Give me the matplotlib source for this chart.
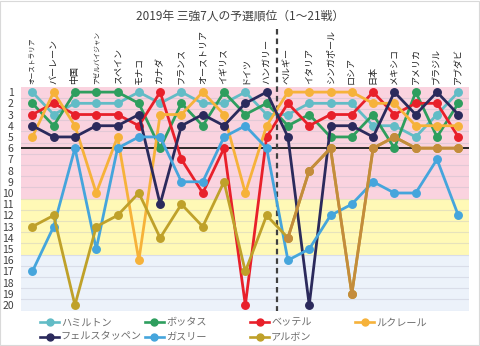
import matplotlib
matplotlib.use("Agg")
import matplotlib.pyplot as plt
from matplotlib.lines import Line2D
from matplotlib.patches import Rectangle

plt.rcParams['font.family'] = ['Noto Sans CJK JP', 'DejaVu Sans']

# 2019年 各GPの予選順位(1〜21戦)
races = ['オーストラリア', 'バーレーン', '中国', 'アゼルバイジャン', 'スペイン', 'モナコ', 'カナダ',
         'フランス', 'オーストリア', 'イギリス', 'ドイツ', 'ハンガリー', 'ベルギー', 'イタリア',
         'シンガポール', 'ロシア', '日本', 'メキシコ', 'アメリカ', 'ブラジル', 'アブダビ']

hamilton = [1, 3, 2, 2, 2, 1, 2, 1, 2, 2, 1, 3, 3, 2, 2, 2, 4, 4, 5, 3, 1]
bottas = [2, 4, 1, 1, 1, 2, 6, 2, 4, 1, 3, 2, 4, 3, 5, 5, 3, 6, 1, 5, 2]
vettel = [3, 2, 3, 3, 3, 4, 1, 7, 10, 6, 20, 5, 2, 4, 3, 3, 1, 3, 2, 2, 5]
leclerc = [5, 1, 4, 10, 5, 16, 3, 3, 1, 3, 10, 4, 1, 1, 1, 1, 2, 2, 4, 4, 4]
verstappen = [4, 5, 5, 4, 4, 3, 11, 4, 3, 4, 2, 1, 5, 20, 4, 4, 5, 1, 3, 1, 3]
gasly = [17, 13, 6, 15, 6, 5, 5, 9, 9, 5, 4, 6, 16, 15, 12, 11, 9, 10, 10, 7, 12]
albon = [13, 12, 20, 13, 12, 10, 14, 11, 13, 9, 17, 12, 14, 8, 6, 19, 6, 5, 6, 6, 6]

drivers = ['ハミルトン', 'ボッタス', 'ベッテル', 'ルクレール', 'フェルスタッペン', 'ガスリー', 'アルボン']
series = [hamilton, bottas, vettel, leclerc, verstappen, gasly, albon]
colors = ['#62BCC6', '#2E9E5E', '#E8202A', '#F6B23A', '#2B2A5C', '#45A5DC', '#BFA12A']

BREAK_AFTER = 12  # ハンガリーの後(夏休み)

fig = plt.figure(figsize=(4.8, 3.46), dpi=100)
ax = fig.add_axes([0.043, 0.102, 0.934, 0.648])

x = list(range(1, len(races) + 1))

# 背景の帯
ax.axhspan(0.5, 10.5, color='#FAD3DF', zorder=0, lw=0)
ax.axhspan(10.5, 15.5, color='#FFF9B6', zorder=0, lw=0)
ax.axhspan(15.5, 20.5, color='#ECF2FA', zorder=0, lw=0)
for y in range(1, 21):
    ax.axhline(y + 0.5, color='#B8B8C8', alpha=0.35, lw=0.8, zorder=0.5)

ax.axhline(6, color='#1A1A1A', lw=1.3, zorder=1)
ax.plot([BREAK_AFTER + 0.5] * 2, [-4.6, 20.5], color='#404040', lw=1.6,
        ls=(0, (2.5, 1.8)), clip_on=False, zorder=1)

for name, vals, c in zip(drivers, series, colors):
    ax.plot(x, vals, color=c, lw=2.0, marker='o', ms=5.4, zorder=2)
# アルボンは後半(レッドブル昇格後)を茶色で
ax.plot(x[BREAK_AFTER:], albon[BREAK_AFTER:], color='#C48C3C', lw=2.0,
        marker='o', ms=5.4, zorder=2)

ax.set_xlim(0.45, 21.5)
ax.set_ylim(20.5, 0.5)
ax.set_xticks([])
ax.set_yticks(range(1, 21))
ax.tick_params(axis='y', length=0, pad=5, labelsize=7.5, labelcolor='#404040')
for s in ax.spines.values():
    s.set_visible(False)

# 長い国名は詰めて表示
for xi, r in zip(x, races):
    ax.text(xi, 0.3, r, rotation=90, ha='center', va='bottom',
            fontsize=6.5 if len(r) <= 6 else 4.8, color='#202020')

fig.text(0.5, 0.954, '2019年 三強7人の予選順位（1～21戦）', ha='center', va='center',
         fontsize=8.5, color='#404040')

# 凡例(Excel風の等幅カラム)
for i, (name, c) in enumerate(zip(drivers, colors)):
    col, row = i % 4, i // 4
    x0 = (40 + 105 * col) / 480
    y0 = 1 - (322.3 + 14.4 * row) / 346
    fig.add_artist(Line2D([x0, x0 + 19 / 480], [y0, y0], color=c, lw=1.9,
                          transform=fig.transFigure))
    fig.add_artist(Line2D([x0 + 9.5 / 480], [y0], color=c, marker='o', ms=5,
                          transform=fig.transFigure))
    fig.text(x0 + 21 / 480, y0, name, ha='left', va='center', fontsize=7.3,
             color='#6E6E6E')

fig.add_artist(Rectangle((0.001, 0.0015), 0.997, 0.996, fill=False,
                         edgecolor='#D9D9D9', lw=0.8, transform=fig.transFigure))

fig.savefig('out.png', dpi=100)
